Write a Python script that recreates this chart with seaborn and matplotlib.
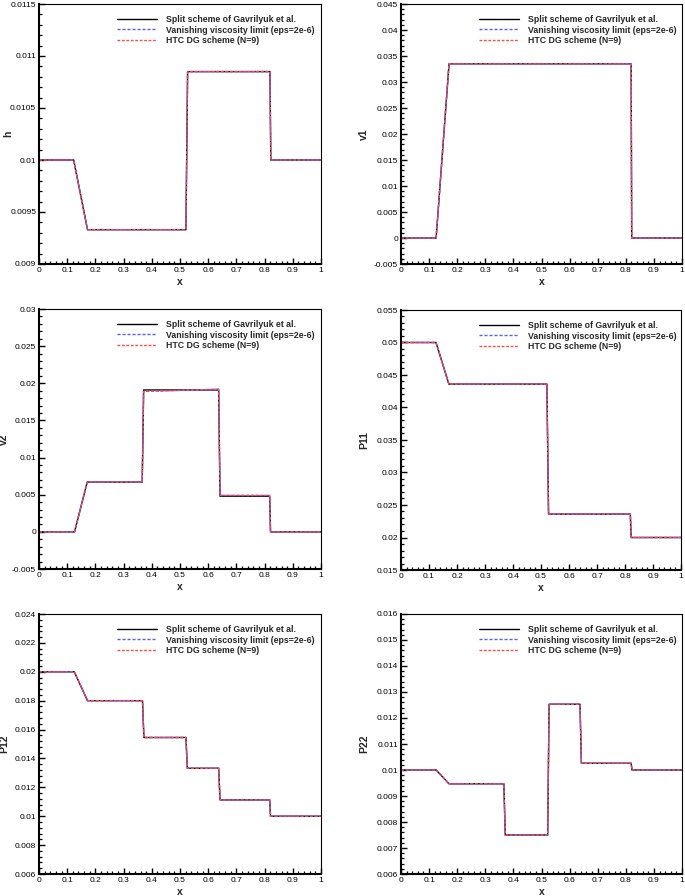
import matplotlib
matplotlib.use("Agg")
import matplotlib.pyplot as plt
import seaborn as sns
from matplotlib.ticker import MultipleLocator, AutoMinorLocator, FuncFormatter

# data (piecewise linear profiles at final time)
x_h = [0, 0.123, 0.172, 0.521, 0.527, 0.819, 0.822, 1]
h_split = [0.01, 0.01, 0.00933, 0.00933, 0.01085, 0.01085, 0.01, 0.01]
h_visc = [0.01, 0.01, 0.00933, 0.00933, 0.01085, 0.01085, 0.01, 0.01]
h_dg = [0.01, 0.01, 0.00933, 0.00933, 0.01085, 0.01085, 0.01, 0.01]

x_v1 = [0, 0.125, 0.171, 0.819, 0.821, 1]
v1_split = [0, 0, 0.0335, 0.0335, 0, 0]
v1_visc = [0, 0, 0.0335, 0.0335, 0, 0]
v1_dg = [0, 0, 0.0335, 0.0335, 0, 0]

x_v2 = [0, 0.126, 0.171, 0.366, 0.371, 0.637, 0.642, 0.818, 0.821, 1]
v2_split = [0, 0, 0.0067, 0.0067, 0.0191, 0.0191, 0.0048, 0.0048, 0, 0]
v2_visc = [0, 0, 0.0067, 0.0067, 0.0189, 0.0192, 0.0049, 0.0049, 0, 0]
v2_dg = [0, 0, 0.0067, 0.0067, 0.0189, 0.0192, 0.0049, 0.0049, 0, 0]

x_p11 = [0, 0.125, 0.171, 0.521, 0.527, 0.819, 0.822, 1]
p11_split = [0.05, 0.05, 0.0436, 0.0436, 0.0236, 0.0236, 0.02, 0.02]
p11_visc = [0.05, 0.05, 0.0436, 0.0436, 0.0236, 0.0236, 0.02, 0.02]
p11_dg = [0.05, 0.05, 0.0436, 0.0436, 0.0236, 0.0236, 0.02, 0.02]

x_p12 = [0, 0.125, 0.172, 0.367, 0.372, 0.521, 0.526, 0.637, 0.642, 0.818, 0.821, 1]
p12_split = [0.02, 0.02, 0.018, 0.018, 0.01545, 0.01545, 0.01332, 0.01332,
             0.01113, 0.01113, 0.01, 0.01]
p12_visc = p12_split
p12_dg = p12_split

x_p22 = [0, 0.125, 0.171, 0.366, 0.371, 0.522, 0.527, 0.637, 0.642, 0.819, 0.822, 1]
p22_split = [0.01, 0.01, 0.00947, 0.00947, 0.0075, 0.0075, 0.01253, 0.01253,
             0.01026, 0.01026, 0.01, 0.01]
p22_visc = p22_split
p22_dg = p22_split

labels = ["Split scheme of Gavrilyuk et al.",
          "Vanishing viscosity limit (eps=2e-6)",
          "HTC DG scheme (N=9)"]

panels = [
    ("h", x_h, [h_split, h_visc, h_dg], (0.009, 0.0115), 0.0005),
    ("v1", x_v1, [v1_split, v1_visc, v1_dg], (-0.005, 0.045), 0.005),
    ("v2", x_v2, [v2_split, v2_visc, v2_dg], (-0.005, 0.03), 0.005),
    ("P11", x_p11, [p11_split, p11_visc, p11_dg], (0.015, 0.055), 0.005),
    ("P12", x_p12, [p12_split, p12_visc, p12_dg], (0.006, 0.024), 0.002),
    ("P22", x_p22, [p22_split, p22_visc, p22_dg], (0.006, 0.016), 0.001),
]

sns.set_style("white")
plt.rcParams['font.family'] = ['Liberation Sans', 'DejaVu Sans']

W, H = 685, 896
fig = plt.figure(figsize=(W / 100, H / 100), dpi=100)

# axes boxes in pixels: (left, top, right, bottom)
boxes = [(39, 4, 321, 264), (401, 4, 682, 264),
         (39, 309, 321, 569), (401, 310, 681, 570),
         (39, 614, 321, 874), (401, 614, 682, 874)]
# right edge of the y label, in pixels
ylab_px = [13, 369, 9, 369, 9, 369]

fmt = FuncFormatter(lambda v, p: f"{round(v, 7):g}")

for (name, xs, ys, ylim, ystep), (l, t, r, b), yl in zip(panels, boxes, ylab_px):
    ax = fig.add_axes([l / W, 1 - b / H, (r - l) / W, (b - t) / H])
    sns.lineplot(x=xs, y=ys[0], ax=ax, color="black", lw=1.0,
                 estimator=None, sort=False, label=labels[0])
    sns.lineplot(x=xs, y=ys[1], ax=ax, color="#5a5aff", lw=1.0,
                 estimator=None, sort=False, label=labels[1], dashes=False)
    ax.lines[-1].set_dashes((2.2, 1.4))
    sns.lineplot(x=xs, y=ys[2], ax=ax, color="#ff4a4a", lw=1.0,
                 estimator=None, sort=False, label=labels[2], dashes=False)
    ax.lines[-1].set_dashes((2.0, 1.2))

    ax.set_xlim(0, 1)
    ax.set_ylim(*ylim)
    ax.xaxis.set_major_locator(MultipleLocator(0.1))
    ax.xaxis.set_minor_locator(AutoMinorLocator(5))
    ax.yaxis.set_major_locator(MultipleLocator(ystep))
    ax.yaxis.set_minor_locator(AutoMinorLocator(5))
    ax.xaxis.set_major_formatter(fmt)
    ax.yaxis.set_major_formatter(fmt)
    ax.tick_params(which="both", direction="in", top=False, right=False,
                   left=True, bottom=True, labelsize=6, pad=2, colors="black")
    ax.tick_params(which="major", length=4, width=1.0)
    ax.tick_params(which="minor", length=2.2, width=0.9)
    for s in ["left", "bottom"]:
        ax.spines[s].set_linewidth(1.5)
        ax.spines[s].set_color("black")
    for s in ["top", "right"]:
        ax.spines[s].set_linewidth(0.8)
        ax.spines[s].set_color("black")
    ax.set_xlabel("x", fontsize=7.5, fontweight="bold")
    ax.set_ylabel(name, fontsize=7.5, fontweight="bold")
    ax.xaxis.set_label_coords(0.5, -0.05)
    ax.yaxis.set_label_coords((yl - l) / (r - l), 0.5)

    leg = ax.legend(loc="upper left", bbox_to_anchor=(0.265, 0.972), frameon=False,
                    fontsize=6.3, handlelength=4.6, handletextpad=1.0,
                    labelspacing=0.2, borderaxespad=0)
    for txt in leg.get_texts():
        txt.set_fontweight("bold")

fig.savefig("out.png", dpi=100)
